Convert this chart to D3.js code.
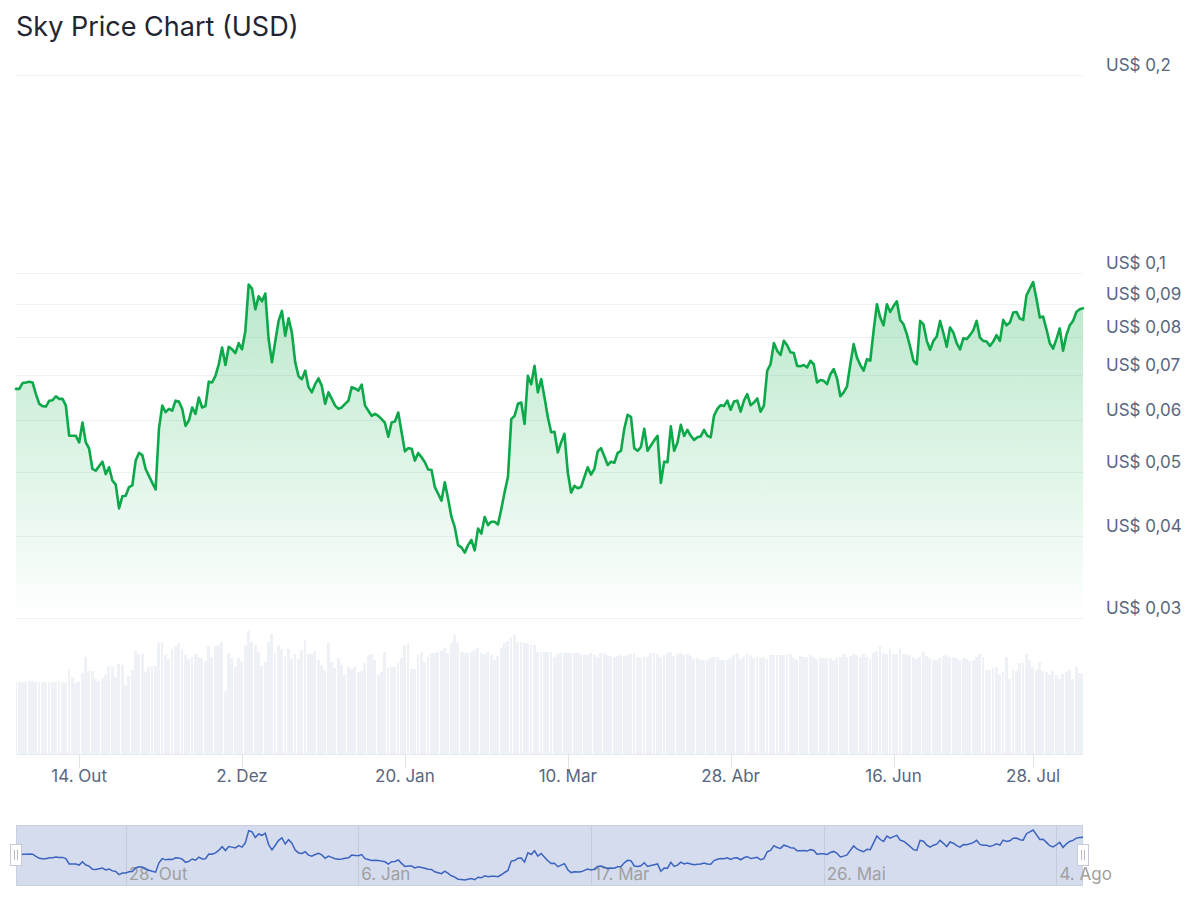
<!DOCTYPE html>
<html><head><meta charset="utf-8">
<script src="https://cdn.jsdelivr.net/npm/d3@7"></script>
<style>
body{margin:0;background:#fff;}
svg{display:block;font-family:Inter,"Noto Sans",sans-serif;}
</style>
</head><body>
<svg id="c" width="1200" height="908"></svg>
<script>
// ---- data ----
const titleText = "Sky Price Chart (USD)";
const startDate = "2024-09-25"; // first daily point
const prices = [
0.0668,0.0668,0.0682,0.0683,0.0685,0.0683,0.0656,0.0634,0.0629,0.0628,
0.0641,0.0642,0.0651,0.0645,0.0645,0.0630,0.0567,0.0567,0.0567,0.0554,
0.0594,0.0554,0.0542,0.0505,0.0502,0.0510,0.0518,0.0496,0.0508,0.0485,
0.0478,0.0440,0.0459,0.0460,0.0474,0.0477,0.0520,0.0534,0.0530,0.0505,
0.0493,0.0481,0.0470,0.0581,0.0630,0.0616,0.0623,0.0619,0.0641,0.0639,
0.0623,0.0587,0.0598,0.0626,0.0612,0.0648,0.0626,0.0629,0.0685,0.0683,
0.0699,0.0728,0.0772,0.0726,0.0774,0.0767,0.0757,0.0784,0.0767,0.0818,
0.0962,0.0948,0.0882,0.0923,0.0907,0.0932,0.0795,0.0733,0.0789,0.0847,
0.0877,0.0804,0.0855,0.0813,0.0733,0.0698,0.0691,0.0712,0.0672,0.0660,
0.0679,0.0693,0.0675,0.0634,0.0660,0.0645,0.0630,0.0623,0.0626,0.0634,
0.0641,0.0672,0.0669,0.0664,0.0678,0.0630,0.0619,0.0608,0.0612,0.0608,
0.0601,0.0593,0.0565,0.0594,0.0596,0.0615,0.0574,0.0537,0.0543,0.0542,
0.0520,0.0534,0.0526,0.0517,0.0504,0.0503,0.0474,0.0463,0.0452,0.0482,
0.0455,0.0427,0.0412,0.0387,0.0384,0.0377,0.0387,0.0394,0.0380,0.0410,
0.0403,0.0427,0.0415,0.0420,0.0420,0.0416,0.0439,0.0466,0.0491,0.0601,
0.0608,0.0634,0.0637,0.0591,0.0699,0.0679,0.0724,0.0660,0.0691,0.0648,
0.0605,0.0574,0.0575,0.0535,0.0554,0.0571,0.0499,0.0465,0.0476,0.0472,
0.0474,0.0491,0.0508,0.0495,0.0505,0.0537,0.0543,0.0528,0.0512,0.0518,
0.0516,0.0534,0.0538,0.0581,0.0610,0.0606,0.0543,0.0538,0.0545,0.0581,
0.0538,0.0548,0.0558,0.0567,0.0481,0.0518,0.0517,0.0586,0.0538,0.0554,
0.0589,0.0567,0.0579,0.0567,0.0559,0.0564,0.0566,0.0579,0.0567,0.0564,
0.0608,0.0623,0.0631,0.0629,0.0641,0.0621,0.0639,0.0641,0.0617,0.0641,
0.0656,0.0631,0.0637,0.0646,0.0617,0.0630,0.0712,0.0728,0.0784,0.0763,
0.0752,0.0790,0.0778,0.0759,0.0757,0.0724,0.0723,0.0726,0.0720,0.0737,
0.0728,0.0683,0.0689,0.0687,0.0679,0.0703,0.0716,0.0693,0.0651,0.0660,
0.0674,0.0728,0.0781,0.0745,0.0726,0.0712,0.0741,0.0737,0.0818,0.0898,
0.0857,0.0834,0.0898,0.0874,0.0892,0.0907,0.0850,0.0837,0.0809,0.0774,
0.0737,0.0728,0.0847,0.0837,0.0790,0.0766,0.0790,0.0802,0.0847,0.0812,
0.0774,0.0828,0.0813,0.0784,0.0767,0.0797,0.0795,0.0806,0.0820,0.0847,
0.0799,0.0790,0.0788,0.0776,0.0788,0.0806,0.0790,0.0850,0.0834,0.0842,
0.0872,0.0874,0.0854,0.0850,0.0926,0.0948,0.0970,0.0915,0.0857,0.0860,
0.0823,0.0784,0.0769,0.0795,0.0825,0.0763,0.0806,0.0834,0.0847,0.0874,
0.0882,0.0885
];
// daily volume (relative, M USD)
const volumes = [
7.2,7.2,7.2,7.2,7.3,7.3,7.2,7.2,7.2,7.2,
7.2,7.2,7.2,7.2,7.2,7.1,8.5,7.7,7.1,7.2,
8.1,9.7,8.3,8.3,7.5,7.3,7.6,7.9,8.8,8.7,
7.7,9.0,8.9,6.9,7.8,8.4,10.3,10.0,10.0,8.2,
8.7,8.8,8.8,11.1,11.2,9.9,9.5,10.5,10.8,11.1,
10.5,9.9,9.5,9.7,10.0,9.7,9.6,9.3,10.8,9.7,
10.8,10.9,11.2,6.3,10.1,9.6,8.7,9.6,9.3,10.9,
12.3,11.2,10.9,10.2,8.8,9.2,11.2,12.0,10.1,10.9,
10.5,9.8,10.5,9.5,10.0,9.5,10.4,11.4,10.0,10.0,
10.3,9.4,8.9,8.4,11.1,9.2,8.6,9.6,8.9,7.9,
8.7,8.5,8.7,8.2,8.3,9.1,9.9,10.0,9.4,7.9,
8.2,10.2,8.6,8.7,8.7,9.1,9.6,10.9,11.1,8.5,
8.5,9.9,10.2,9.2,9.7,10.1,10.1,10.2,10.3,10.6,
10.1,11.1,11.9,11.1,10.2,10.1,10.1,10.2,10.4,10.6,
10.1,10.0,10.2,9.9,9.4,9.8,10.6,11.1,11.3,11.7,
11.9,11.2,11.2,11.1,11.1,10.9,10.9,10.2,10.2,10.2,
10.2,10.2,9.7,10.0,10.1,10.1,10.2,10.1,10.1,10.1,
10.0,9.9,9.9,10.1,9.9,9.7,10.1,10.1,9.9,9.8,
9.7,9.8,9.9,9.8,9.9,10.0,10.1,9.7,9.6,9.7,
9.7,10.1,10.1,10.0,9.7,9.9,10.1,10.2,9.8,10.0,
10.1,9.9,10.0,9.8,9.5,9.6,9.4,9.4,9.4,9.6,
9.7,9.7,9.4,9.4,9.4,9.6,9.9,10.1,9.5,9.7,
10.0,9.9,9.6,9.7,9.6,9.7,9.5,9.9,9.9,9.9,
9.9,9.9,10.0,10.0,9.6,9.4,9.8,9.7,9.7,9.9,
9.7,9.5,9.6,9.6,9.6,9.6,9.3,9.6,9.7,10.0,
9.7,9.8,10.0,9.9,9.7,10.0,9.7,9.5,10.1,10.3,
10.8,10.1,10.0,10.5,10.0,10.0,10.5,10.0,10.0,9.9,
9.7,9.5,9.7,10.2,9.8,9.6,9.4,9.4,9.6,9.8,
9.9,9.7,9.7,9.6,9.4,9.6,9.5,9.3,9.4,9.7,
10.0,9.7,8.4,8.4,8.6,8.7,7.9,8.2,9.7,7.5,
8.4,8.3,9.1,9.1,10.0,9.4,8.7,8.4,9.2,8.3,
8.2,7.9,8.3,7.9,7.5,8.0,8.2,8.4,7.5,8.7,
8.1,8.0
];
const yTickValues = [0.03, 0.04, 0.05, 0.06, 0.07, 0.08, 0.09, 0.1, 0.2];
const xTickDates  = ["2024-10-14","2024-12-02","2025-01-20","2025-03-10","2025-04-28","2025-06-16","2025-07-28"];
const xTickLabels = ["14. Out","2. Dez","20. Jan","10. Mar","28. Abr","16. Jun","28. Jul"];
const navTickDates  = ["2024-10-28","2025-01-06","2025-03-17","2025-05-26","2025-08-04"];
const navTickLabels = ["28. Out","6. Jan","17. Mar","26. Mai","4. Ago"];

// ---- build ----
const parse = d3.utcParse("%Y-%m-%d");
const t0 = parse(startDate);
const series = prices.map((p, i) => ({date: d3.utcDay.offset(t0, i), p, v: volumes[i]}));
const L = 16, R = 1083;

const svg = d3.select("#c");
const x = d3.scaleUtc().domain(d3.extent(series, d => d.date)).range([L, R]);
const y = d3.scaleLog().domain([0.03, 0.2]).range([618, 75]);
const yv = d3.scaleLinear().domain([0, 13]).range([754, 624]);

const defs = svg.append("defs");
const grad = defs.append("linearGradient").attr("id", "g")
  .attr("gradientUnits", "userSpaceOnUse").attr("x1", 0).attr("x2", 0)
  .attr("y1", y(0.097)).attr("y2", y(0.03));
grad.append("stop").attr("offset", 0).attr("stop-color", "#16b24f").attr("stop-opacity", 0.30);
grad.append("stop").attr("offset", 1).attr("stop-color", "#16b24f").attr("stop-opacity", 0.0);
defs.append("clipPath").attr("id", "clip").append("rect")
  .attr("x", L).attr("y", 0).attr("width", R - L).attr("height", 800);

// title
svg.append("text").attr("x", 16).attr("y", 36).attr("font-size", 27)
  .attr("fill", "#222531").text(titleText);

// grid lines
svg.append("g").selectAll("line").data(yTickValues).join("line")
  .attr("x1", L).attr("x2", R)
  .attr("y1", d => Math.round(y(d)) + 0.5).attr("y2", d => Math.round(y(d)) + 0.5)
  .attr("stroke", "#eff2f5").attr("stroke-width", 1);

// y labels
const fmt = v => "US$ " + String(v).replace(".", ",");
svg.append("g").selectAll("text").data(yTickValues).join("text")
  .attr("x", 1106).attr("y", d => y(d) - 4)
  .attr("font-size", 17).attr("fill", "#58667e").text(fmt);

// volume bars
const step = x(series[1].date) - x(series[0].date);
svg.append("g").attr("clip-path", "url(#clip)").selectAll("rect").data(series).join("rect")
  .attr("x", d => x(d.date) - step / 2)
  .attr("width", step - 0.45)
  .attr("y", d => yv(d.v))
  .attr("height", d => yv(0) - yv(d.v))
  .attr("fill", "#eef1f5")
  .attr("shape-rendering", "crispEdges");

// x axis base + ticks + labels
svg.append("line").attr("x1", L).attr("x2", R).attr("y1", 754.5).attr("y2", 754.5)
  .attr("stroke", "#e6e9ef");
const xt = xTickDates.map((d, i) => ({date: parse(d), label: xTickLabels[i]}));
const gx = svg.append("g");
gx.selectAll("line").data(xt).join("line")
  .attr("x1", d => Math.round(x(d.date)) + 0.5).attr("x2", d => Math.round(x(d.date)) + 0.5)
  .attr("y1", 755).attr("y2", 768).attr("stroke", "#dfe3ea");
gx.selectAll("text").data(xt).join("text")
  .attr("x", d => x(d.date)).attr("y", 782).attr("text-anchor", "middle")
  .attr("font-size", 17).attr("fill", "#58667e").text(d => d.label);

// price area + line
svg.append("path").datum(series).attr("clip-path", "url(#clip)")
  .attr("d", d3.area().x(d => x(d.date)).y0(y(0.03)).y1(d => y(d.p)))
  .attr("fill", "url(#g)");
svg.append("path").datum(series)
  .attr("d", d3.line().x(d => x(d.date)).y(d => y(d.p)))
  .attr("fill", "none").attr("stroke", "#0ca84a").attr("stroke-width", 2.6)
  .attr("stroke-linejoin", "round").attr("stroke-linecap", "round");

// ---- navigator ----
const nTop = 825, nBot = 886;
const xn = d3.scaleUtc().domain(x.domain()).range([L, R]);
const yn = d3.scaleLinear().domain(d3.extent(prices)).range([880, 830]);
const nav = svg.append("g");
nav.append("rect").attr("x", L).attr("y", nTop).attr("width", R - L).attr("height", nBot - nTop)
  .attr("fill", "#d5dcee");
const nt = navTickDates.map((d, i) => ({date: parse(d), label: navTickLabels[i]}));
nav.selectAll("line.g").data(nt).join("line").attr("class", "g")
  .attr("x1", d => Math.round(xn(d.date)) + 0.5).attr("x2", d => Math.round(xn(d.date)) + 0.5)
  .attr("y1", nTop).attr("y2", nBot).attr("stroke", "#c4cbdd");
nav.append("rect").attr("x", L + 0.5).attr("y", nTop + 0.5).attr("width", R - L - 1).attr("height", nBot - nTop - 1)
  .attr("fill", "none").attr("stroke", "#c8d0e2");
nav.selectAll("text").data(nt).join("text")
  .attr("x", d => xn(d.date) + 3).attr("y", 880)
  .attr("font-size", 17).attr("fill", "#a0a0a0").text(d => d.label);
nav.append("path").datum(series)
  .attr("d", d3.line().x(d => xn(d.date)).y(d => yn(d.p)))
  .attr("fill", "none").attr("stroke", "#3b63bf").attr("stroke-width", 1.5);
// handles
[L, R].forEach(hx => {
  const g = nav.append("g").attr("transform", `translate(${Math.round(hx)},855)`);
  g.append("rect").attr("x", -5.5).attr("y", -10.5).attr("width", 11).attr("height", 21)
    .attr("fill", "#ffffff").attr("stroke", "#c5cad6");
  g.append("line").attr("x1", -1.5).attr("x2", -1.5).attr("y1", -5).attr("y2", 5).attr("stroke", "#b5bac6");
  g.append("line").attr("x1", 1.5).attr("x2", 1.5).attr("y1", -5).attr("y2", 5).attr("stroke", "#b5bac6");
});
</script>
</body></html>
